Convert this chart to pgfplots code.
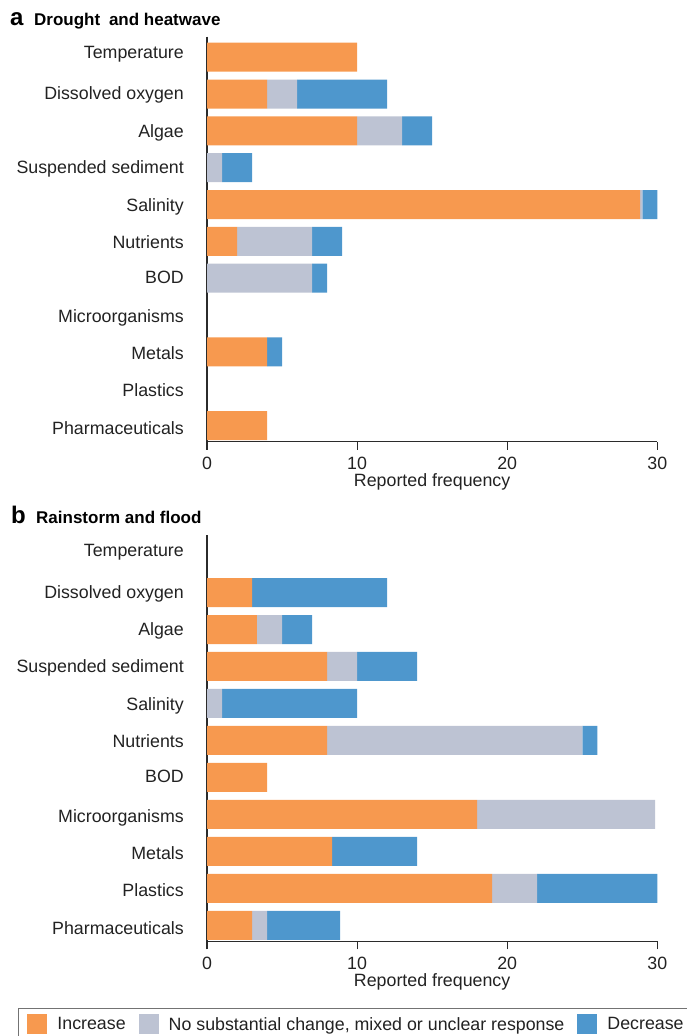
\documentclass[border=0pt]{standalone}
\usepackage{fontspec}
\setmainfont{Liberation Sans}
\usepackage{pgfplots}
\usepackage{pgfplotstable}
\pgfplotsset{compat=1.18}

\definecolor{cInc}{HTML}{F7994F}
\definecolor{cMix}{HTML}{BDC3D3}
\definecolor{cDec}{HTML}{4E97CD}
\definecolor{ink}{HTML}{222222}
\definecolor{axisink}{HTML}{2B2B2B}

% Reported frequency of each response: increase / mixed / decrease
% pos: 0 Temperature ... 10 Pharmaceuticals
\pgfplotstableread{
pos inc   mix  dec
0   10    0    0
1   4     2    6
2   10    3    2
3   0     1    2
4   28.85 0.15 1
5   2     5    2
6   0     7    1
7   0     0    0
8   4     0    1
9   0     0    0
10  4     0    0
}\droughtdata

\pgfplotstableread{
pos inc   mix   dec
0   0     0     0
1   3     0     9
2   3.33  1.67  2
3   8     2     4
4   0     1     9
5   8     17    1
6   4     0     0
7   18    11.85 0
8   8.33  0     5.67
9   19    3     8
10  3     1     4.87
}\flooddata

\newcommand{\lblfont}{\fontsize{17.8}{20}\selectfont}

\pgfplotsset{
  swatch/.style={legend image code/.code={\fill[##1] (0pt,-10pt) rectangle (20pt,10pt);}},
  panel/.style={
    scale only axis, width=450.3pt,
    xmin=0, xmax=30, ymin=-0.556, ymax=10.434, y dir=reverse,
    xbar stacked, bar width=29pt,
    axis x line*=bottom, axis y line*=left,
    axis line style={-, draw=axisink, line width=1.2pt},
    xtick={0,10,20,30}, tick align=outside, major tick length=8pt,
    xtick style={draw=axisink, line width=1.2pt},
    ytick style={draw=none},
    % category names, set a touch off the bar centres as in the print layout
    ytick={-0.14,0.98,2,3,4.02,5.03,5.96,7.04,8.04,9.05,10.07},
    yticklabels={Temperature, Dissolved oxygen, Algae, Suspended sediment,
      Salinity, Nutrients, BOD, Microorganisms, Metals, Plastics, Pharmaceuticals},
    ticklabel style={font=\lblfont, text=ink, inner sep=0pt},
    yticklabel style={anchor=base east, xshift=-15pt, yshift=-6.3pt},
    xticklabel style={anchor=north, yshift=-7.5pt},
    /pgf/number format/assume math mode=true,
    xlabel={Reported frequency},
    xlabel style={at={(axis description cs:0.5,0)}, anchor=base,
      yshift=-44.7pt, inner sep=0pt, font=\lblfont, text=ink},
    clip=false,
  },
}

\begin{document}
\begin{tikzpicture}
\useasboundingbox (0pt,0pt) rectangle (686pt,-1036pt);

% panel headings
\node[anchor=base west, inner sep=0pt, font=\fontsize{24}{26}\selectfont\bfseries] at (10pt,-25.5pt) {a};
\node[anchor=base west, inner sep=0pt, font=\fontsize{17}{20}\selectfont\bfseries] at (34pt,-25.5pt) {Drought\hspace{4pt} and heatwave};
\node[anchor=base west, inner sep=0pt, font=\fontsize{24}{26}\selectfont\bfseries] at (11pt,-523pt) {b};
\node[anchor=base west, inner sep=0pt, font=\fontsize{17}{20}\selectfont\bfseries] at (36pt,-523pt) {Rainstorm and flood};

% a: drought and heatwave
\begin{axis}[panel, at={(207pt,-441.5pt)}, anchor=south west, height=404.8pt]
  \addplot[fill=cInc, draw=none] table[x=inc, y=pos]{\droughtdata};
  \addplot[fill=cMix, draw=none] table[x=mix, y=pos]{\droughtdata};
  \addplot[fill=cDec, draw=none] table[x=dec, y=pos]{\droughtdata};
\end{axis}

% b: rainstorm and flood
\begin{axis}[panel, at={(207pt,-941.3pt)}, anchor=south west, height=406.3pt,
  legend columns=-1,
  legend style={at={(-0.4197,-0.1642)}, anchor=north west,
    draw=black!55, line width=0.8pt, inner xsep=9pt, inner ysep=6pt,
    font=\lblfont, text=ink, nodes={inner sep=0pt},
    /tikz/every odd column/.append style={column sep=10pt},
    /tikz/every even column/.append style={column sep=13pt}},
  ]
  \addplot[fill=cInc, draw=none, swatch] table[x=inc, y=pos]{\flooddata};
  \addplot[fill=cMix, draw=none, swatch] table[x=mix, y=pos]{\flooddata};
  \addplot[fill=cDec, draw=none, swatch] table[x=dec, y=pos]{\flooddata};
  \legend{Increase, {No substantial change, mixed or unclear response}, Decrease}
\end{axis}
\end{tikzpicture}
\end{document}
